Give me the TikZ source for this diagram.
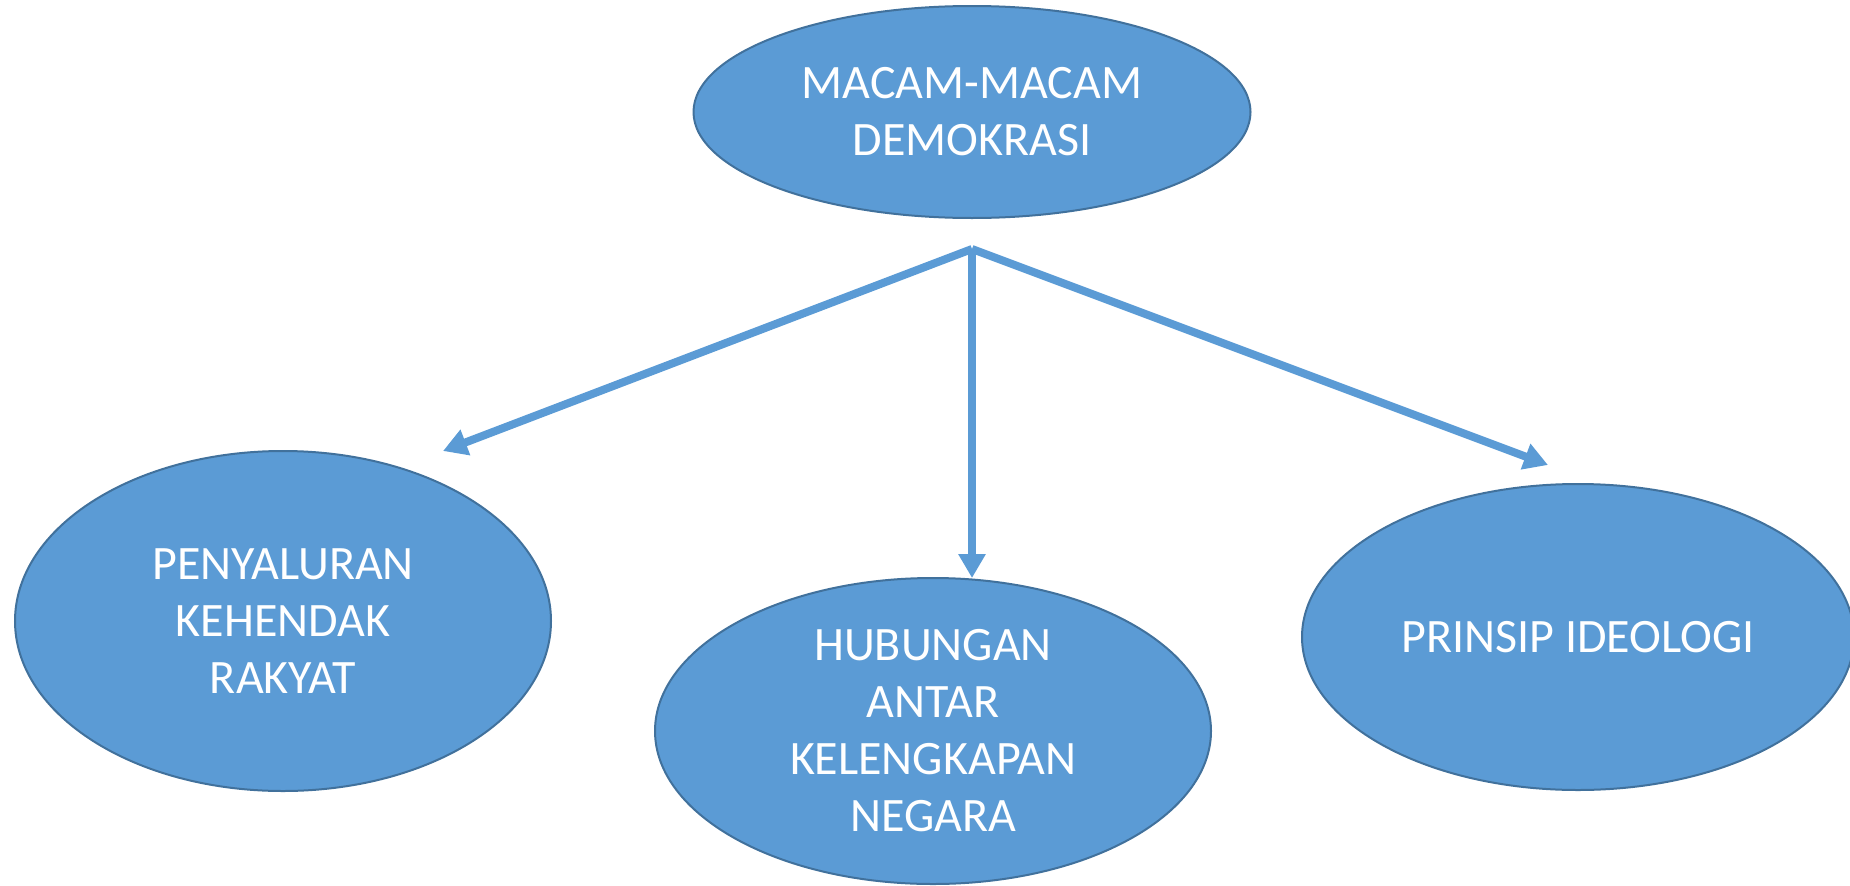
\documentclass[tikz,border=0pt]{standalone}
\usepackage{fontspec}
\setmainfont{Carlito}
\usetikzlibrary{shapes.geometric,arrows.meta}
\definecolor{fillblue}{HTML}{5B9BD5}
\definecolor{edgeblue}{HTML}{41719C}
\tikzset{
  bubble/.style={ellipse, draw=edgeblue, fill=fillblue, line width=2pt, inner sep=0pt},
  btext/.style={text=white, align=center, font=\fontsize{48}{57}\selectfont},
  conn/.style={draw=fillblue, line width=8pt, -{Triangle[length=24pt,width=26pt]}, shorten >=0pt}
}
\begin{document}
\begin{tikzpicture}[x=1pt,y=-1pt]
\useasboundingbox (0,0) rectangle (1850,886);
\node[bubble, minimum width=557pt, minimum height=212pt] (top) at (972,112) {};
\node[btext] (toptext) at (top.center) {MACAM-MACAM\\DEMOKRASI};
\node[bubble, minimum width=536pt, minimum height=340pt] (left) at (283,621) {};
\node[btext] (lefttext) at (left.center) {PENYALURAN\\KEHENDAK\\RAKYAT};
\node[bubble, minimum width=556pt, minimum height=306pt] (mid) at (933,731) {};
\node[btext] (midtext) at (mid.center) {HUBUNGAN\\ANTAR\\KELENGKAPAN\\NEGARA};
\node[bubble, minimum width=552pt, minimum height=306pt] (right) at (1578,637) {};
\node[btext] (righttext) at (right.center) {PRINSIP IDEOLOGI};
\coordinate (apex) at (972,249);
\coordinate (lt) at (443,451);
\coordinate (mt) at (972,578);
\coordinate (rt) at (1548,465);
\draw[conn] (apex) -- (lt);
\draw[conn] (apex) -- (mt);
\draw[conn] (apex) -- (rt);
\end{tikzpicture}
\end{document}
